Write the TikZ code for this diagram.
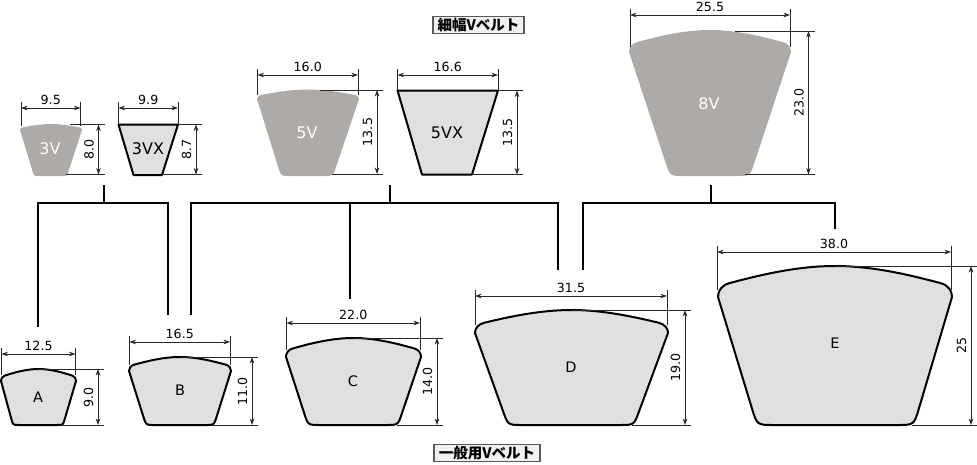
\documentclass[tikz,border=0pt]{standalone}
\usepackage{fontspec}
\setmainfont{DejaVu Sans}
\newfontfamily\cjk{Noto Sans CJK JP}
\usetikzlibrary{arrows.meta,calc}
\definecolor{darkbelt}{HTML}{ADAAA7}
\definecolor{lightbelt}{HTML}{E0E0E0}
\definecolor{dimcol}{HTML}{282828}
\tikzset{
  dimext/.style={draw=dimcol,line width=0.85pt},
  dimarrow/.style={draw=dimcol,line width=0.85pt,{Stealth[length=6.5pt,width=4.6pt]}-{Stealth[length=6.5pt,width=4.6pt]}},
  dimtext/.style={inner sep=0pt,font=\fontsize{12.6}{12.6}\selectfont,text=black},
  tree/.style={draw=black,line width=2.3pt,line cap=butt,line join=miter},
  solidbelt/.style={fill=darkbelt,draw=none},
  wiredbelt/.style={fill=lightbelt,draw=black,line width=2pt,line join=round},
  namewhite/.style={inner sep=0pt,text=white,font=\fontsize{16}{16}\selectfont},
  nameblack/.style={inner sep=0pt,text=black,font=\fontsize{16}{16}\selectfont},
  namesmall/.style={inner sep=0pt,text=black,font=\fontsize{14.5}{14.5}\selectfont},
  heading/.style={draw=black!65,line width=1.1pt,fill=black!6,inner sep=0pt,minimum height=17pt,font=\cjk\bfseries\fontsize{14.5}{14.5}\selectfont},
}
% style, xl, xr, yc, ytop, xbl, xbr, yb, r
\newcommand\beltpath[9]{%
  \pgfmathsetmacro\bxm{(#2+#3)/2}%
  \pgfmathsetmacro\bhw{(#3-#2)/2}%
  \pgfmathsetmacro\bhh{#4-#5}%
  \path[#1]
    ($(#7,#8)!#9 pt!(#3,#4)$)
    -- (#3,#4)
    .. controls (#3,#4-0.2*\bhh) and (#3-0.03*\bhw,#5+0.62*\bhh) .. (#3-0.1*\bhw,#5+0.55*\bhh)
    .. controls (#3-0.35*\bhw,#5+0.3*\bhh) and (\bxm+0.33*\bhw,#5) .. (\bxm,#5)
    .. controls (\bxm-0.33*\bhw,#5) and (#2+0.35*\bhw,#5+0.3*\bhh) .. (#2+0.1*\bhw,#5+0.55*\bhh)
    .. controls (#2+0.03*\bhw,#5+0.62*\bhh) and (#2,#4-0.2*\bhh) .. (#2,#4)
    -- ($(#6,#8)!#9 pt!(#2,#4)$)
    .. controls (#6,#8) .. ($(#6,#8)!#9 pt!(#7,#8)$)
    -- ($(#7,#8)!#9 pt!(#6,#8)$)
    .. controls (#7,#8) .. cycle;
}
% name, xl, xr, yarrow, yfoot, label
\newcommand\widthdim[6]{%
  \coordinate (#1a) at (#2,#4);
  \coordinate (#1b) at (#3,#4);
  \draw[dimext] (#2,#4-6) -- (#2,#5);
  \draw[dimext] (#3,#4-6) -- (#3,#5);
  \draw[dimarrow] (#1a) -- (#1b);
  \node[dimtext] (#1t) at ($(#1a)!0.5!(#1b)+(0,-8.5)$) {#6};
}
% name, xtopstart, xbotstart, ytop, ybot, xdim, xend, label
\newcommand\heightdim[8]{%
  \coordinate (#1a) at (#6,#4);
  \coordinate (#1b) at (#6,#5);
  \draw[dimext] (#2,#4) -- (#7,#4);
  \draw[dimext] (#3,#5) -- (#7,#5);
  \draw[dimarrow] (#1a) -- (#1b);
  \node[dimtext,rotate=90] (#1t) at ($(#1a)!0.5!(#1b)+(-9.5,0)$) {#8};
}
\begin{document}
\begin{tikzpicture}[x=1pt,y=-1pt]
\useasboundingbox (0,0) rectangle (977,464);

% headings
\node[heading,minimum width=91pt] (headnarrow) at (478.5,25) {細幅Vベルト};
\node[heading,minimum width=106pt] (headgeneral) at (487,453) {一般用Vベルト};

% narrow belts
\beltpath{solidbelt}{20}{82}{130}{124}{34}{67}{176}{5}
\node[namewhite] (n3v) at (50,149) {3V};
\widthdim{w3v}{21}{80.5}{108}{126}{9.5}
\heightdim{h3v}{70}{66}{124.5}{174.5}{98.5}{105}{8.0}

\path[wiredbelt] (118.5,124.5) -- (178,124.5) -- (162,175) -- (133.5,175) -- cycle;
\node[nameblack] (n3vx) at (148,149) {3VX};
\widthdim{w3vx}{118.5}{178}{108}{124}{9.9}
\heightdim{h3vx}{178}{162}{124.5}{174.5}{196}{202}{8.7}

\beltpath{solidbelt}{257}{359}{99}{89.5}{281}{333}{176}{9}
\node[namewhite] (n5v) at (307,133) {5V};
\widthdim{w5v}{257.5}{358}{75}{95}{16.0}
\heightdim{h5v}{320}{332}{90}{174}{377}{383}{13.5}

\path[wiredbelt] (397.5,90.5) -- (498,90.5) -- (472,174.5) -- (422,174.5) -- cycle;
\node[nameblack] (n5vx) at (447,133) {5VX};
\widthdim{w5vx}{397.5}{498}{75}{90}{16.6}
\heightdim{h5vx}{498}{472}{90.5}{174.5}{517}{523}{13.5}

\beltpath{solidbelt}{629}{791}{52}{30}{670}{750}{176}{14}
\node[namewhite] (n8v) at (709,104) {8V};
\widthdim{w8v}{630}{790}{15}{47}{25.5}
\heightdim{h8v}{735}{745}{31}{174.5}{808.5}{815}{23.0}

% tree connectors
\coordinate (t1s) at (104,185); \coordinate (t1m) at (104,203);
\coordinate (t1l) at (38,203);  \coordinate (t1r) at (168,203);
\coordinate (endA) at (38,327); \coordinate (endB) at (168,315);
\draw[tree] (t1s) -- (t1m);
\draw[tree] (endA) -- (t1l) -- (t1r) -- (endB);

\coordinate (t2s) at (390,185); \coordinate (t2m) at (390,203);
\coordinate (t2l) at (191,203); \coordinate (t2c) at (350,203); \coordinate (t2r) at (558,203);
\coordinate (endB2) at (191,315); \coordinate (endC) at (350,299); \coordinate (endD) at (558,270);
\draw[tree] (t2s) -- (t2m);
\draw[tree] (t2c) -- (endC);
\draw[tree] (endB2) -- (t2l) -- (t2r) -- (endD);

\coordinate (t3s) at (711,185); \coordinate (t3m) at (711,203);
\coordinate (t3l) at (583,203); \coordinate (t3r) at (835,203);
\coordinate (endD2) at (583,270); \coordinate (endE) at (835,229);
\draw[tree] (t3s) -- (t3m);
\draw[tree] (endD2) -- (t3l) -- (t3r) -- (endE);

% classic belts
\beltpath{wiredbelt}{1}{76}{381}{369}{13}{63}{425}{6}
\node[namesmall] (na) at (38,397) {A};
\widthdim{wa}{1.5}{75.5}{354}{375}{12.5}
\heightdim{ha}{38}{60}{369}{425}{98}{104}{9.0}

\beltpath{wiredbelt}{129}{231}{371}{357}{146}{214}{425}{8}
\node[namesmall] (nb) at (180,390) {B};
\widthdim{wb}{129.5}{230}{342}{365}{16.5}
\heightdim{hb}{180}{212}{357}{425}{252}{258}{11.0}

\beltpath{wiredbelt}{286}{421}{357}{338}{308}{398}{425}{12}
\node[namesmall] (nc) at (353,381) {C};
\widthdim{wc}{286.5}{420}{323}{350}{22.0}
\heightdim{hc}{353}{397}{338}{425}{437}{443}{14.0}

\beltpath{wiredbelt}{475}{668}{333}{310}{508}{634}{425}{14}
\node[namesmall] (nd) at (571,367) {D};
\widthdim{wd}{475}{667}{296}{325}{31.5}
\heightdim{hd}{571}{632}{310}{425}{685}{691}{19.0}

\beltpath{wiredbelt}{718}{952}{297}{266}{757}{914}{425}{17}
\node[namesmall] (ne) at (835,343) {E};
\widthdim{we}{717}{951}{252}{290}{38.0}
\heightdim{he}{835}{912}{266}{425}{971}{977}{25}
\end{tikzpicture}
\end{document}
